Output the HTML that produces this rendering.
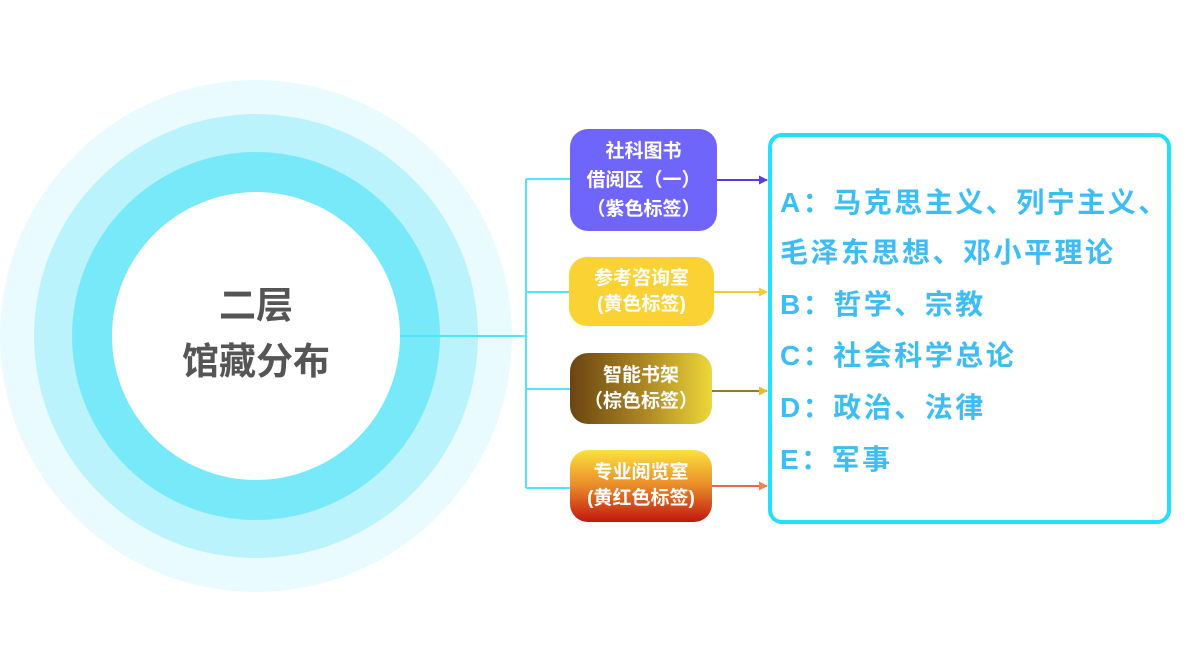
<!DOCTYPE html>
<html><head><meta charset="utf-8"><style>
body{margin:0;width:1197px;height:652px;background:#fff;position:relative;overflow:hidden;font-family:"Liberation Sans","Noto Sans CJK SC",sans-serif;}
.c{position:absolute;border-radius:50%;}
.b{position:absolute;border-radius:18px;color:#fff;font-weight:bold;font-size:19px;line-height:26px;text-align:center;display:flex;align-items:center;justify-content:center;white-space:nowrap;}
.t{position:absolute;left:780px;color:#3dbdf5;font-weight:bold;font-size:28px;letter-spacing:2.5px;white-space:nowrap;line-height:30px;}
</style></head><body>
<div class="c" style="left:0;top:80px;width:512px;height:512px;background:#e9fbfe"></div>
<div class="c" style="left:34px;top:114px;width:444px;height:444px;background:#baf3fb"></div>
<div class="c" style="left:72px;top:152px;width:368px;height:368px;background:#77e9f9"></div>
<div class="c" style="left:112px;top:192px;width:288px;height:288px;background:#fff"></div>
<div style="position:absolute;left:112px;top:278px;width:288px;text-align:center;font-size:37px;font-weight:bold;color:#555;line-height:56px">二层<br>馆藏分布</div>
<svg style="position:absolute;left:0;top:0" width="1197" height="652">
<defs>
<marker id="m1" markerUnits="userSpaceOnUse" markerWidth="9" markerHeight="9" refX="8" refY="4.5" orient="auto"><path d="M0,0L9,4.5L0,9z" fill="#5b3be6"/></marker>
<marker id="m2" markerUnits="userSpaceOnUse" markerWidth="9" markerHeight="9" refX="8" refY="4.5" orient="auto"><path d="M0,0L9,4.5L0,9z" fill="#f5cc2e"/></marker>
<marker id="m3" markerUnits="userSpaceOnUse" markerWidth="9" markerHeight="9" refX="8" refY="4.5" orient="auto"><path d="M0,0L9,4.5L0,9z" fill="#e0c030"/></marker>
<marker id="m4" markerUnits="userSpaceOnUse" markerWidth="9" markerHeight="9" refX="8" refY="4.5" orient="auto"><path d="M0,0L9,4.5L0,9z" fill="#f58050"/></marker>
</defs>
<g stroke="#4de6fb" stroke-width="2" fill="none">
<path d="M400,336H526M526,179V488M526,179H572M526,292H572M526,389H572M526,488H572"/>
</g>
<line x1="716" y1="180" x2="767" y2="180" stroke="#5b3be6" stroke-width="2" marker-end="url(#m1)"/>
<line x1="713" y1="292" x2="767" y2="292" stroke="#f5cc2e" stroke-width="2" marker-end="url(#m2)"/>
<line x1="711" y1="391" x2="767" y2="391" stroke="#9a7a20" stroke-width="2" marker-end="url(#m3)"/>
<line x1="711" y1="486" x2="767" y2="486" stroke="#f56050" stroke-width="2" marker-end="url(#m4)"/>
</svg>
<div class="b" style="left:570px;top:129px;width:147px;height:102px;background:#7065fb;line-height:29px">社科图书<br>借阅区（一）<br>（紫色标签）</div>
<div class="b" style="left:569px;top:257px;width:145px;height:69px;background:#fbd234">参考咨询室<br>(黄色标签)</div>
<div class="b" style="left:570px;top:353px;width:142px;height:71px;background:linear-gradient(90deg,#6a4512,#b08a24 55%,#ecd83a)">智能书架<br>（棕色标签）</div>
<div class="b" style="left:570px;top:450px;width:142px;height:72px;background:linear-gradient(180deg,#fbe23c,#e98a2a 50%,#c0160e)">专业阅览室<br>(黄红色标签)</div>
<div style="position:absolute;left:768px;top:133px;width:395px;height:383px;border:4px solid #22e0fa;border-radius:14px"></div>
<div class="t" style="top:188px">A：马克思主义、列宁主义、</div>
<div class="t" style="top:238px">毛泽东思想、邓小平理论</div>
<div class="t" style="top:290px">B：哲学、宗教</div>
<div class="t" style="top:341px">C：社会科学总论</div>
<div class="t" style="top:393px">D：政治、法律</div>
<div class="t" style="top:445px">E：军事</div>
</body></html>
